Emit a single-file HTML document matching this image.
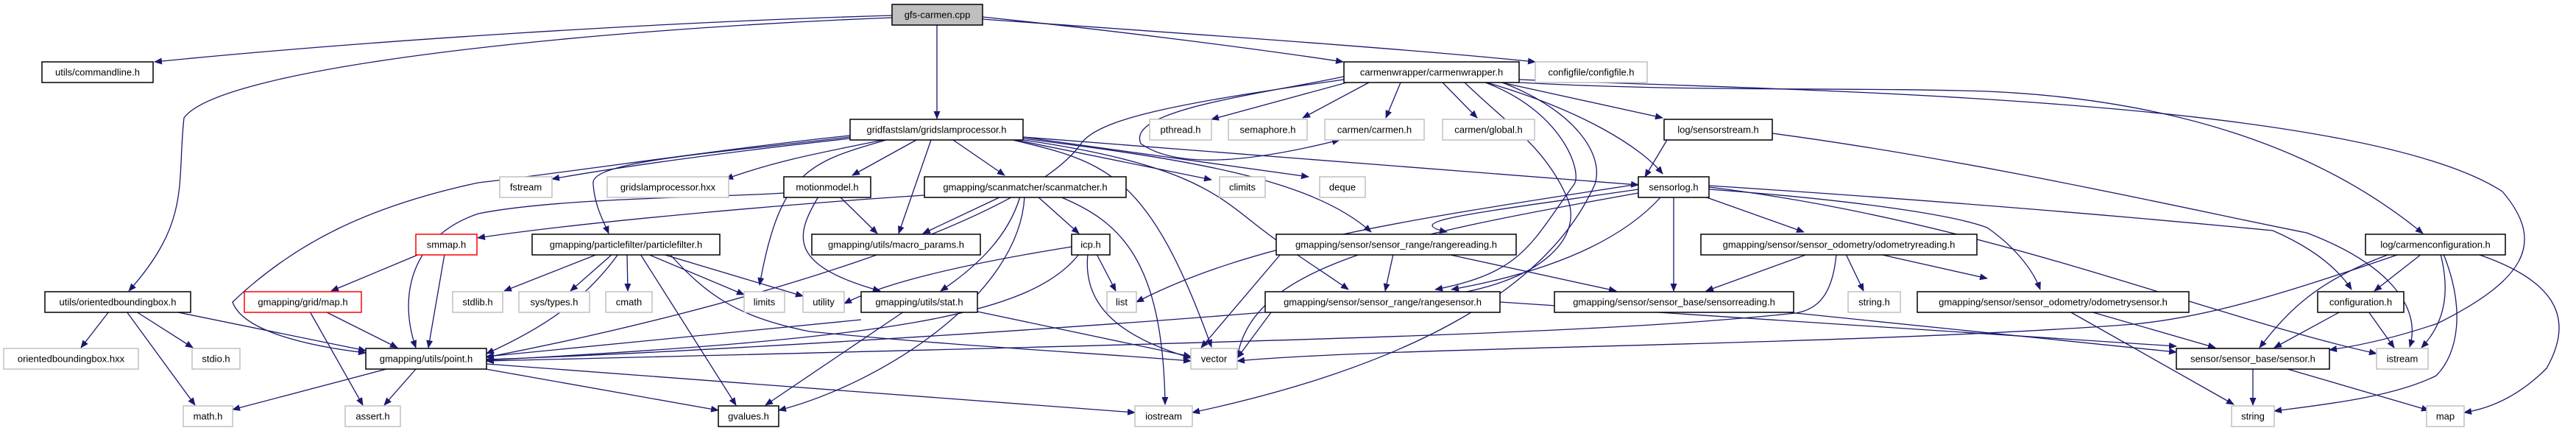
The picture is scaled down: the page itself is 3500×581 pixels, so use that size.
<!DOCTYPE html>
<html><head><meta charset="utf-8"><style>
html,body{margin:0;padding:0;background:#fff;width:3500px;height:581px;overflow:hidden}
svg{display:block}
text{font-family:"Liberation Sans",sans-serif;font-size:13px;fill:#000;text-anchor:middle}
.e{fill:none;stroke:#191970;stroke-width:1.3;marker-end:url(#a)}
.n{fill:#fff;stroke:#000;stroke-width:1.5}
.g{fill:#fff;stroke:#c0c0c0;stroke-width:1.5}
.r{fill:#fff;stroke:#ff0000;stroke-width:1.5}
</style></head><body>
<svg width="3500" height="581" viewBox="0 0 3500 581">
<defs><marker id="a" markerUnits="userSpaceOnUse" markerWidth="11" markerHeight="9" refX="10" refY="4.5" orient="auto"><path d="M0,0 L11,4.5 L0,9 z" fill="#191970"/></marker></defs>
<g>
<!-- gfs-carmen edges -->
<path class="e" d="M1212,21 C900,30 500,55 210,84"/>
<path class="e" d="M1212,24 C800,40 300,90 250,160 C240,250 260,300 175,395"/>
<path class="e" d="M1273,34 L1273,161"/>
<path class="e" d="M1335,23 C1500,40 1700,65 1825,84"/>
<path class="e" d="M1335,26 C1600,45 1900,65 2086,84"/>
<!-- gridslamprocessor edges -->
<path class="e" d="M1155,188 C1000,205 850,225 750,243"/>
<path class="e" d="M1200,190 C1100,210 1050,220 986,243"/>
<path class="e" d="M1155,186 C950,210 800,220 806,250 C808,280 820,300 827,317"/>
<path class="e" d="M1155,184 C1000,200 800,230 650,248 C500,280 400,330 316,410 C330,450 420,470 497,479"/>
<path class="e" d="M1245,190 L1158,238"/>
<path class="e" d="M1265,190 L1221,317"/>
<path class="e" d="M1295,190 L1365,238"/>
<path class="e" d="M1204,190 C1100,220 1060,231 1032,387"/>
<path class="e" d="M1376,190 C1500,220 1560,231 1646,471"/>
<path class="e" d="M1380,190 L1646,244"/>
<path class="e" d="M1390,186 L1778,240"/>
<path class="e" d="M1390,186 L2226,251"/>
<path class="e" d="M1390,188 C1600,215 1780,240 1863,315"/>
<path class="e" d="M1390,190 C1600,220 1650,260 1700,300 C1750,340 1800,370 1832,393"/>
<!-- motionmodel -->
<path class="e" d="M1141,267 L1192,317"/>
<path class="e" d="M1112,267 C1080,320 1070,360 1196,395"/>
<path class="e" d="M1065,262 C980,268 760,268 650,290 C560,320 540,400 565,472"/>
<!-- scanmatcher -->
<path class="e" d="M1360,267 L1254,317"/>
<path class="e" d="M1410,267 L1466,317"/>
<path class="e" d="M1386,267 C1370,320 1330,360 1278,395"/>
<path class="e" d="M1392,267 C1385,400 1200,520 1058,557"/>
<path class="e" d="M1440,267 C1520,300 1580,350 1583,549"/>
<path class="e" d="M1256,265 C1100,275 800,300 649,323"/>
<!-- icp -->
<path class="e" d="M1456,335 C1300,360 1200,385 1147,412"/>
<path class="e" d="M1490,345 L1516,395"/>
<path class="e" d="M1478,345 C1470,420 1530,460 1618,486"/>
<path class="e" d="M1466,345 C1400,430 1200,460 661,489"/>
<!-- stat -->
<path class="e" d="M1170,434 L661,484"/>
<path class="e" d="M1228,423 L1040,550"/>
<path class="e" d="M1328,423 L1618,484"/>
<!-- particlefilter -->
<path class="e" d="M812,345 L685,395"/>
<path class="e" d="M832,345 L775,395"/>
<path class="e" d="M852,345 L853,395"/>
<path class="e" d="M880,345 L1011,400"/>
<path class="e" d="M900,345 L1091,402"/>
<path class="e" d="M910,345 C960,400 1000,430 1100,450 C1300,470 1500,480 1618,490"/>
<path class="e" d="M870,345 L1000,550"/>
<path class="e" d="M840,345 C800,400 750,440 661,480"/>
<!-- smmap / map -->
<path class="e" d="M570,345 L450,395"/>
<path class="e" d="M604,345 L582,472"/>
<path class="e" d="M442,423 L540,472"/>
<path class="e" d="M421,423 L493,550"/>
<!-- orientedbbox -->
<path class="e" d="M148,423 L110,472"/>
<path class="e" d="M185,423 L262,472"/>
<path class="e" d="M172,423 L265,550"/>
<path class="e" d="M237,423 L497,476"/>
<!-- point.h -->
<path class="e" d="M525,501 L316,556"/>
<path class="e" d="M565,501 L522,550"/>
<path class="e" d="M660,501 L976,557"/>
<path class="e" d="M661,494 L1542,560"/>
<!-- carmenwrapper -->
<path class="e" d="M1826,108 C1600,140 1500,160 1471,192 C1400,300 1000,420 661,485"/>
<path class="e" d="M1830,112 L1646,162"/>
<path class="e" d="M1860,112 L1770,160"/>
<path class="e" d="M1903,112 L1883,160"/>
<path class="e" d="M1960,112 L2007,160"/>
<path class="e" d="M2040,112 L2259,160"/>
<path class="e" d="M2020,112 C2150,150 2230,200 2259,236"/>
<path class="e" d="M1826,104 C1700,130 1530,150 1550,195 C1600,230 1700,220 1820,190"/>
<path class="e" d="M2041,112 C2140,150 2180,210 2167,250 C2100,400 1900,500 1620,560"/>
<path class="e" d="M2018,112 C2120,150 2150,230 2139,250 C2080,330 2070,370 1950,393"/>
<path class="e" d="M2064,112 C2300,125 2500,118 2700,124 C2950,135 3150,200 3292,317"/>
<path class="e" d="M2064,108 C2400,122 3200,130 3400,260 C3460,330 3430,380 3312,439 C3250,460 3200,470 3165,475"/>
<path class="e" d="M1990,112 C2050,170 2100,200 2130,270 C2150,320 2100,380 1970,400"/>
<!-- sensorstream -->
<path class="e" d="M2265,190 L2235,240"/>
<path class="e" d="M2408,181 C2700,220 3000,290 3134,316 C3250,360 3290,420 3274,471"/>
<!-- sensorlog -->
<path class="e" d="M2226,257 C2000,290 1900,300 1966,315"/>
<path class="e" d="M2257,267 C2200,330 2100,370 1972,393"/>
<path class="e" d="M2274,267 L2274,395"/>
<path class="e" d="M2316,267 L2451,315"/>
<path class="e" d="M2226,250 C1900,300 1700,330 1544,410"/>
<path class="e" d="M2322,257 C2500,270 2650,290 2700,309 C2730,330 2760,360 2772,393"/>
<path class="e" d="M2322,252 C2600,270 2850,290 3088,313 C3150,340 3180,370 3195,393"/>
<path class="e" d="M2322,254 C2700,300 3000,430 3229,480"/>
<path class="e" d="M2226,262 C1900,320 1700,360 1681,486"/>
<!-- rangereading -->
<path class="e" d="M1893,345 L1882,395"/>
<path class="e" d="M1966,345 L2196,395"/>
<path class="e" d="M1740,345 L1632,472"/>
<!-- rangesensor -->
<path class="e" d="M1730,423 C1400,450 900,480 661,488"/>
<path class="e" d="M2038,410 L2957,470"/>
<path class="e" d="M1730,420 L1681,486"/>
<!-- odometryreading -->
<path class="e" d="M2456,345 L2318,395"/>
<path class="e" d="M2508,345 L2532,395"/>
<path class="e" d="M2553,345 L2700,378"/>
<path class="e" d="M2495,345 C2490,400 2470,420 2440,425 C2200,450 1900,460 661,490"/>
<!-- sensorreading -->
<path class="e" d="M2420,423 L2957,478"/>
<!-- odometrysensor -->
<path class="e" d="M2840,423 L3010,472"/>
<path class="e" d="M2812,423 L3035,549"/>
<!-- carmenconfiguration -->
<path class="e" d="M3290,345 L3226,395"/>
<path class="e" d="M3247,345 C3150,380 3110,420 3070,472"/>
<path class="e" d="M3316,345 C3330,400 3320,440 3290,472"/>
<path class="e" d="M3320,345 C3350,420 3340,480 3310,510 C3250,540 3150,550 3090,558"/>
<path class="e" d="M3366,345 C3470,380 3500,430 3460,500 C3420,540 3380,555 3348,560"/>
<path class="e" d="M3260,345 C3100,400 3000,430 2900,440 C2500,470 1900,470 1681,490"/>
<!-- configuration -->
<path class="e" d="M3180,423 L3090,472"/>
<path class="e" d="M3218,423 L3253,472"/>
<!-- sensor.h -->
<path class="e" d="M3061,501 L3061,550"/>
<path class="e" d="M3108,501 L3300,557"/>
</g>
<g>
<rect x="1212" y="6" width="123" height="28" fill="#bfbfbf" stroke="#000" stroke-width="1.5"/><text x="1273.5" y="24.5">gfs-carmen.cpp</text>
<rect class="n" x="57" y="84" width="151" height="28"/><text x="132.5" y="102.5">utils/commandline.h</text>
<rect class="n" x="1826" y="84" width="238" height="28"/><text x="1945" y="102.5">carmenwrapper/carmenwrapper.h</text>
<rect class="g" x="2086" y="84" width="152" height="28"/><text x="2162" y="102.5">configfile/configfile.h</text>
<rect class="n" x="1155" y="162" width="235" height="28"/><text x="1272.5" y="180.5">gridfastslam/gridslamprocessor.h</text>
<rect class="g" x="1562" y="162" width="84" height="28"/><text x="1604" y="180.5">pthread.h</text>
<rect class="g" x="1669" y="162" width="107" height="28"/><text x="1722.5" y="180.5">semaphore.h</text>
<rect class="g" x="1800" y="162" width="135" height="28"/><text x="1867.5" y="180.5">carmen/carmen.h</text>
<rect class="g" x="1960" y="162" width="125" height="28"/><text x="2022.5" y="180.5">carmen/global.h</text>
<rect class="n" x="2261" y="162" width="147" height="28"/><text x="2334.5" y="180.5">log/sensorstream.h</text>
<rect class="g" x="679" y="240" width="71" height="28"/><text x="714.5" y="258.5">fstream</text>
<rect class="g" x="825" y="240" width="165" height="28"/><text x="907.5" y="258.5">gridslamprocessor.hxx</text>
<rect class="n" x="1065" y="240" width="118" height="28"/><text x="1124" y="258.5">motionmodel.h</text>
<rect class="n" x="1256" y="240" width="274" height="28"/><text x="1393" y="258.5">gmapping/scanmatcher/scanmatcher.h</text>
<rect class="g" x="1657" y="240" width="62" height="28"/><text x="1688" y="258.5">climits</text>
<rect class="g" x="1793" y="240" width="62" height="28"/><text x="1824" y="258.5">deque</text>
<rect class="n" x="2226" y="240" width="96" height="28"/><text x="2274" y="258.5">sensorlog.h</text>
<rect class="r" x="565" y="318" width="83" height="28"/><text x="606.5" y="336.5">smmap.h</text>
<rect class="n" x="723" y="318" width="255" height="28"/><text x="850.5" y="336.5">gmapping/particlefilter/particlefilter.h</text>
<rect class="n" x="1103" y="318" width="229" height="28"/><text x="1217.5" y="336.5">gmapping/utils/macro_params.h</text>
<rect class="n" x="1456" y="318" width="52" height="28"/><text x="1482" y="336.5">icp.h</text>
<rect class="n" x="1734" y="318" width="326" height="28"/><text x="1897" y="336.5">gmapping/sensor/sensor_range/rangereading.h</text>
<rect class="n" x="2311" y="318" width="375" height="28"/><text x="2498.5" y="336.5">gmapping/sensor/sensor_odometry/odometryreading.h</text>
<rect class="n" x="3214" y="318" width="190" height="28"/><text x="3309" y="336.5">log/carmenconfiguration.h</text>
<rect class="n" x="61" y="396" width="198" height="28"/><text x="160" y="414.5">utils/orientedboundingbox.h</text>
<rect class="r" x="332" y="396" width="159" height="28"/><text x="411.5" y="414.5">gmapping/grid/map.h</text>
<rect class="g" x="615" y="396" width="68" height="28"/><text x="649" y="414.5">stdlib.h</text>
<rect class="g" x="705" y="396" width="96" height="28"/><text x="753" y="414.5">sys/types.h</text>
<rect class="g" x="823" y="396" width="63" height="28"/><text x="854.5" y="414.5">cmath</text>
<rect class="g" x="1011" y="396" width="55" height="28"/><text x="1038.5" y="414.5">limits</text>
<rect class="g" x="1091" y="396" width="56" height="28"/><text x="1119" y="414.5">utility</text>
<rect class="n" x="1170" y="396" width="158" height="28"/><text x="1249" y="414.5">gmapping/utils/stat.h</text>
<rect class="g" x="1504" y="396" width="40" height="28"/><text x="1524" y="414.5">list</text>
<rect class="n" x="1719" y="396" width="319" height="28"/><text x="1878.5" y="414.5">gmapping/sensor/sensor_range/rangesensor.h</text>
<rect class="n" x="2112" y="396" width="325" height="28"/><text x="2274.5" y="414.5">gmapping/sensor/sensor_base/sensorreading.h</text>
<rect class="g" x="2511" y="396" width="71" height="28"/><text x="2546.5" y="414.5">string.h</text>
<rect class="n" x="2605" y="396" width="369" height="28"/><text x="2789.5" y="414.5">gmapping/sensor/sensor_odometry/odometrysensor.h</text>
<rect class="n" x="3149" y="396" width="117" height="28"/><text x="3207.5" y="414.5">configuration.h</text>
<rect class="g" x="5" y="473" width="183" height="28"/><text x="96.5" y="491.5">orientedboundingbox.hxx</text>
<rect class="g" x="261" y="473" width="65" height="28"/><text x="293.5" y="491.5">stdio.h</text>
<rect class="n" x="497" y="473" width="164" height="28"/><text x="579" y="491.5">gmapping/utils/point.h</text>
<rect class="g" x="1618" y="473" width="63" height="28"/><text x="1649.5" y="491.5">vector</text>
<rect class="n" x="2957" y="473" width="208" height="28"/><text x="3061" y="491.5">sensor/sensor_base/sensor.h</text>
<rect class="g" x="3229" y="473" width="70" height="28"/><text x="3264" y="491.5">istream</text>
<rect class="g" x="249" y="551" width="67" height="28"/><text x="282.5" y="569.5">math.h</text>
<rect class="g" x="469" y="551" width="75" height="28"/><text x="506.5" y="569.5">assert.h</text>
<rect class="n" x="976" y="551" width="82" height="28"/><text x="1017" y="569.5">gvalues.h</text>
<rect class="g" x="1542" y="551" width="78" height="28"/><text x="1581" y="569.5">iostream</text>
<rect class="g" x="3032" y="551" width="58" height="28"/><text x="3061" y="569.5">string</text>
<rect class="g" x="3297" y="551" width="51" height="28"/><text x="3322.5" y="569.5">map</text>
</g>
</svg>
</body></html>
